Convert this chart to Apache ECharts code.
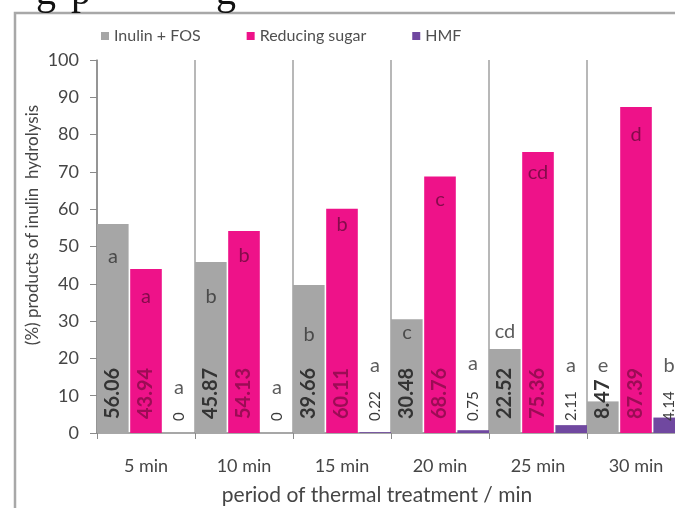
<!DOCTYPE html>
<html><head><meta charset="utf-8">
<script src="https://cdn.jsdelivr.net/npm/echarts@6/dist/echarts.min.js"></script>
<style>html,body{margin:0;padding:0;background:#fff;overflow:hidden}#c{width:675px;height:508px}</style>
</head><body><div id="c"></div>
<script>
const categories = ['5 min', '10 min', '15 min', '20 min', '25 min', '30 min'];
const inulinFos = [56.06, 45.87, 39.66, 30.48, 22.52, 8.47];
const reducingSugar = [43.94, 54.13, 60.11, 68.76, 75.36, 87.39];
const hmf = [0, 0, 0.22, 0.75, 2.11, 4.14];
const inulinLetters = ['a', 'b', 'b', 'c', 'cd', 'e'];
const sugarLetters = ['a', 'b', 'b', 'c', 'cd', 'd'];
const hmfLetters = ['a', 'a', 'a', 'a', 'a', 'b'];
const inulinLetterAt = [47.2, 36.5, 26.3, 26.8, 27.1, 18.2];
const sugarLetterAt = [36.5, 47.7, 55.8, 62.5, 69.7, 79.9];
const hmfLetterAt = [12.3, 12.3, 18.2, 18.6, 18.2, 18.2];
const yTicks = [0, 10, 20, 30, 40, 50, 60, 70, 80, 90, 100];

const FONT = 'Lato';
const chart = echarts.init(document.getElementById('c'), null, {renderer: 'canvas'});

function valueLabel(color, size, dist, weight) {
  return {
    show: true, position: 'insideBottom', rotate: 90, align: 'left', verticalAlign: 'middle',
    distance: dist, formatter: '{c}', color: color, fontFamily: FONT, fontSize: size, fontWeight: weight
  };
}
function letterSeries(at, letters, dx, color) {
  return {
    type: 'scatter', symbolSize: 0, silent: true, z: 5,
    data: at.map((v, i) => [i, v]),
    label: {
      show: true, position: 'inside', offset: [dx, 0], color: color,
      fontFamily: FONT, fontSize: 20,
      formatter: p => letters[p.dataIndex]
    }
  };
}

chart.setOption({
  animation: false,
  textStyle: {fontFamily: FONT},
  legend: {
    data: ['Inulin + FOS', 'Reducing sugar', 'HMF'],
    left: 96, top: 23, itemWidth: 8, itemHeight: 8, itemGap: 46, icon: 'rect',
    textStyle: {fontFamily: FONT, fontSize: 16, color: '#505050'}
  },
  grid: {left: 97, right: -10, top: 60, bottom: 75, outerBoundsMode: 'none', containLabel: false},
  xAxis: {
    type: 'category', data: categories,
    axisLine: {lineStyle: {color: '#8a8a8a', width: 1.5}},
    axisTick: {show: true, length: 6, lineStyle: {color: '#8a8a8a'}},
    axisLabel: {margin: 24, fontFamily: FONT, fontSize: 18, color: '#454545'},
    splitLine: {show: true, interval: 0, lineStyle: {color: '#a0a0a0', width: 1.5}}
  },
  yAxis: {
    type: 'value', min: yTicks[0], max: yTicks[yTicks.length - 1], interval: yTicks[1] - yTicks[0],
    axisLine: {show: true, lineStyle: {color: '#8a8a8a', width: 1.5}},
    axisTick: {show: true, length: 7, lineStyle: {color: '#8a8a8a'}},
    axisLabel: {margin: 18, fontFamily: FONT, fontSize: 18, color: '#454545'},
    splitLine: {show: false}
  },
  series: [
    {name: 'Inulin + FOS', type: 'bar', data: inulinFos, barGap: '5%', barCategoryGap: '0%',
     itemStyle: {color: '#a6a6a6'}, label: valueLabel('#333333', 20, 14, 'bold')},
    {name: 'Reducing sugar', type: 'bar', data: reducingSugar,
     itemStyle: {color: '#ee1289'}, label: valueLabel('#9c0c55', 20, 14, 'bold')},
    {name: 'HMF', type: 'bar', data: hmf,
     itemStyle: {color: '#7048a0'}, label: valueLabel('#3a3a3a', 15, 12, 'normal')},
    letterSeries(inulinLetterAt, inulinLetters, -33, '#333333'),
    letterSeries(sugarLetterAt, sugarLetters, 0, '#6a0a3c'),
    letterSeries(hmfLetterAt, hmfLetters, 33, '#333333')
  ],
  graphic: [
    {type: 'rect', silent: true, shape: {x: 15, y: 13, width: 900, height: 700},
     style: {fill: 'none', stroke: '#a8a8a8', lineWidth: 2.5}},
    {type: 'text', silent: true, x: 377, y: 495,
     style: {text: 'period of thermal treatment / min', font: '21px Lato', fill: '#454545',
             textAlign: 'center', textVerticalAlign: 'middle'}},
    {type: 'text', silent: true, x: 33, y: 225, rotation: Math.PI / 2,
     style: {text: '(%) products of inulin  hydrolysis', font: '17px Lato', fill: '#454545',
             textAlign: 'center', textVerticalAlign: 'middle'}},
    {type: 'text', silent: true, x: 36, y: -27,
     style: {text: 'g', font: '40px "Liberation Serif"', fill: '#111', textVerticalAlign: 'top'}},
    {type: 'text', silent: true, x: 71, y: -27,
     style: {text: 'p', font: '40px "Liberation Serif"', fill: '#111', textVerticalAlign: 'top'}},
    {type: 'text', silent: true, x: 216, y: -27,
     style: {text: 'g', font: '40px "Liberation Serif"', fill: '#111', textVerticalAlign: 'top'}}
  ]
});
</script></body></html>
